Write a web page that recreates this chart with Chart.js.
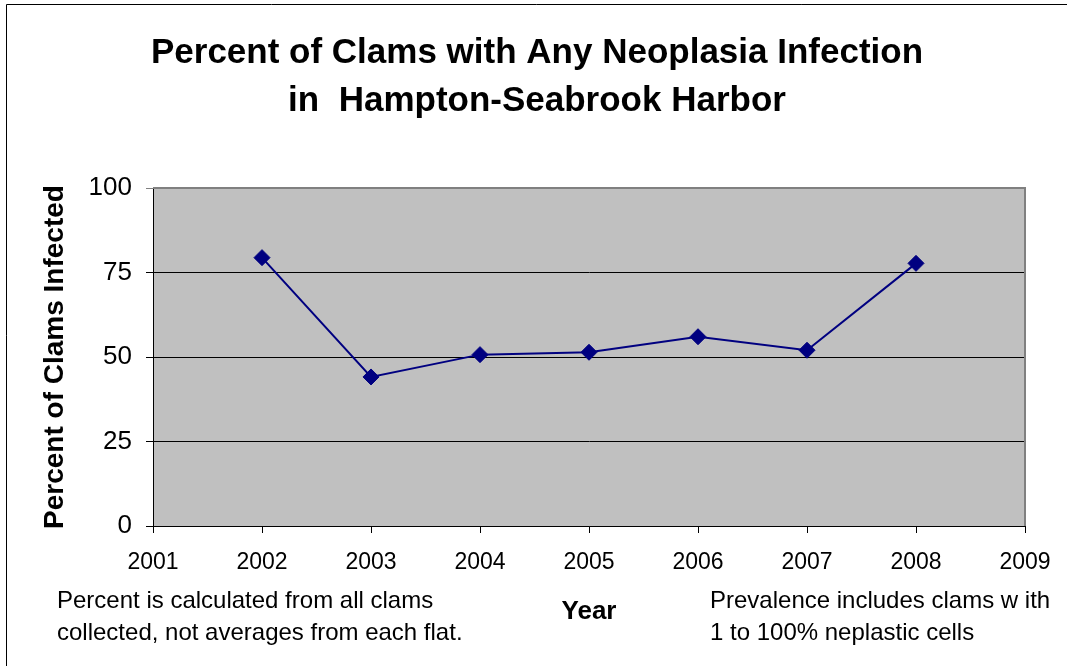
<!DOCTYPE html>
<html>
<head>
<meta charset="utf-8">
<script src="https://cdn.jsdelivr.net/npm/chart.js@4.4.1/dist/chart.umd.min.js"></script>
<style>
  html, body { margin: 0; padding: 0; background: #fff; }
  #wrap { width: 1067px; height: 666px; position: relative; }
</style>
</head>
<body>
<div id="wrap"><canvas id="chart" width="1067" height="666"></canvas></div>
<script>
const FONT = "'Liberation Sans', Arial, sans-serif";

// values
const years    = [2002, 2003, 2004, 2005, 2006, 2007, 2008];
const percents = [79.4, 44.1, 50.7, 51.4, 56.0, 52.0, 77.7];
const titleLines = ["Percent of Clams with Any Neoplasia Infection", "in  Hampton-Seabrook Harbor"];
const noteLeft  = ["Percent is calculated from all clams", "collected, not averages from each flat."];
const noteRight = ["Prevalence includes clams w ith", "1 to 100% neplastic cells"];

// grey plot area with grey frame on top/right, outer chart border, title, footnotes
const decor = {
  id: "decor",
  beforeDraw(chart) {
    const {ctx, chartArea: a} = chart;
    ctx.save();
    ctx.fillStyle = "#ffffff";
    ctx.fillRect(0, 0, chart.width, chart.height);
    ctx.fillStyle = "#c0c0c0";
    ctx.fillRect(a.left, a.top, a.right - a.left, a.bottom - a.top);
    ctx.restore();
  },
  afterDraw(chart) {
    const {ctx, chartArea: a} = chart;
    ctx.save();
    ctx.strokeStyle = "#808080";
    ctx.lineWidth = 2;
    ctx.beginPath();
    ctx.moveTo(a.left, a.top);
    ctx.lineTo(a.right, a.top);
    ctx.lineTo(a.right, a.bottom);
    ctx.stroke();

    ctx.strokeStyle = "#000";
    ctx.lineWidth = 1;
    ctx.beginPath();
    ctx.moveTo(6.5, chart.height);
    ctx.lineTo(6.5, 4.5);
    ctx.lineTo(chart.width, 4.5);
    ctx.stroke();

    ctx.fillStyle = "#000";
    ctx.font = "bold 35px " + FONT;
    ctx.textAlign = "center";
    ctx.textBaseline = "middle";
    titleLines.forEach((t, i) => ctx.fillText(t, 537, 53 + i * 48));

    ctx.font = "24px " + FONT;
    ctx.textBaseline = "alphabetic";
    ctx.textAlign = "left";
    noteLeft.forEach((t, i) => ctx.fillText(t, 57, 608 + i * 32));
    noteRight.forEach((t, i) => ctx.fillText(t, 710, 608 + i * 32));
    ctx.restore();
  }
};

new Chart(document.getElementById("chart"), {
  type: "line",
  data: {
    datasets: [{
      data: years.map((y, i) => ({x: y, y: percents[i]})),
      borderColor: "#000080",
      backgroundColor: "#000080",
      borderWidth: 2,
      pointStyle: "rectRot",
      pointRadius: 8,
      pointBorderWidth: 1,
      tension: 0
    }]
  },
  options: {
    responsive: false,
    animation: false,
    layout: { padding: { left: 0, right: 42, top: 188, bottom: 0 } },
    plugins: {
      legend: { display: false },
      tooltip: { enabled: false },
      title: { display: false }
    },
    scales: {
      x: {
        type: "linear",
        min: 2001, max: 2009,
        afterFit: s => { s.height = 140; },
        ticks: {
          stepSize: 1,
          color: "#000",
          font: { family: FONT, size: 23 },
          padding: 16,
          callback: v => String(v)
        },
        grid: { drawOnChartArea: false, color: "#000", tickLength: 7 },
        border: { color: "#000", width: 1 },
        title: {
          display: true, text: "Year", color: "#000",
          font: { family: FONT, size: 26, weight: "bold" },
          padding: { top: 0, bottom: 39 }
        }
      },
      y: {
        min: 0, max: 100,
        afterFit: s => { s.width = 153; },
        ticks: {
          stepSize: 25,
          color: "#000",
          font: { family: FONT, size: 26 },
          padding: 14
        },
        grid: {
          color: c => (c.tick && c.tick.value === 100) ? "#808080" : "#000",
          lineWidth: 1,
          tickLength: 7
        },
        border: { color: "#000", width: 1 },
        title: {
          display: true, text: "Percent of Clams Infected", color: "#000",
          font: { family: FONT, size: 28, weight: "bold" },
          padding: { top: 38, bottom: 0 }
        }
      }
    }
  },
  plugins: [decor]
});
</script>
</body>
</html>
